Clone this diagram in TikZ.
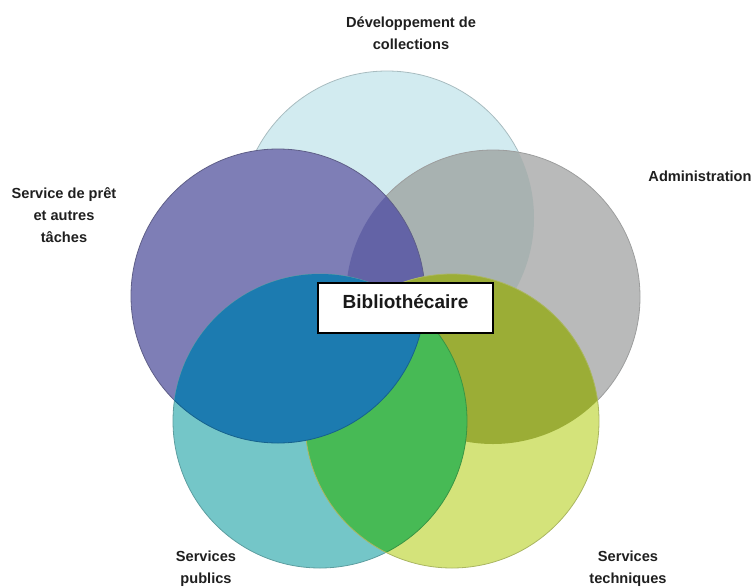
\documentclass[tikz,border=0pt]{standalone}
\usepackage{fontspec}
\setmainfont{Liberation Sans}

\definecolor{collections}{HTML}{D2EBF0}
\definecolor{admin}{HTML}{B9BABA}
\definecolor{admin on coll}{HTML}{A8B2B1}
\definecolor{pret}{HTML}{7E7EB6}
\definecolor{pret on admin}{HTML}{6363A6}
\definecolor{publics}{HTML}{74C6C8}
\definecolor{publics on pret}{HTML}{1C7BB0}
\definecolor{techniques}{HTML}{D4E37A}
\definecolor{tech on admin}{HTML}{9BAD36}
\definecolor{tech on publics}{HTML}{47BA55}

\tikzset{
  area label/.style={
    font=\fontsize{14.6}{22}\selectfont\bfseries,
    align=center, inner sep=0pt, anchor=north, text=black!88
  },
  rim/.style={line width=0.8pt}
}

\begin{document}
\begin{tikzpicture}[x=1pt,y=-1pt]
  \useasboundingbox (0,0) rectangle (753,587);

  \def\rad{147pt}
  \coordinate (coll c) at (387,218);
  \coordinate (admin c) at (493,297);
  \coordinate (pret c) at (278,296);
  \coordinate (publics c) at (320,421);
  \coordinate (tech c) at (452,421);

  % upper disc
  \fill [collections] (coll c) circle [radius=\rad];
  \draw [rim, collections!80!black] (coll c) circle [radius=\rad];

  % right disc
  \fill [admin] (admin c) circle [radius=\rad];
  \begin{scope}
    \clip (admin c) circle [radius=\rad];
    \fill [admin on coll] (coll c) circle [radius=\rad];
  \end{scope}
  \draw [rim, admin!85!black] (admin c) circle [radius=\rad];

  % left disc
  \fill [pret] (pret c) circle [radius=\rad];
  \begin{scope}
    \clip (pret c) circle [radius=\rad];
    \fill [pret on admin] (admin c) circle [radius=\rad];
  \end{scope}
  \draw [rim, pret!75!black] (pret c) circle [radius=\rad];

  % lower left disc
  \fill [publics] (publics c) circle [radius=\rad];
  \draw [rim, publics!80!black] (publics c) circle [radius=\rad];

  % lower right disc
  \fill [techniques] (tech c) circle [radius=\rad];
  \begin{scope}
    \clip (tech c) circle [radius=\rad];
    \fill [tech on admin] (admin c) circle [radius=\rad];
    \fill [tech on publics] (publics c) circle [radius=\rad];
    \draw [rim, tech on publics!80!black] (publics c) circle [radius=\rad];
  \end{scope}
  \draw [rim, techniques!80!black] (tech c) circle [radius=\rad];

  % blue lens stays on top
  \begin{scope}
    \clip (publics c) circle [radius=\rad];
    \fill [publics on pret] (pret c) circle [radius=\rad];
    \draw [rim, publics on pret!80!black] (pret c) circle [radius=\rad];
  \end{scope}

  \node [draw, fill=white, line width=1.3pt,
    minimum width=175pt, inner xsep=0pt, inner ysep=5pt,
    text height=20pt, text depth=20pt,
    font=\fontsize{19}{22}\selectfont\bfseries, text=black!90]
    (role) at (405.5,308) {Bibliothécaire};

  \node [area label] (coll label) at (411,17) {Développement de\\collections};
  \node [area label] (pret label) at (64,187) {Service de prêt\\et autres\\tâches};
  \node [area label] (admin label) at (700,171) {Administration};
  \node [area label] (publics label) at (206,551) {Services\\publics};
  \node [area label] (tech label) at (628,551) {Services\\techniques};
\end{tikzpicture}
\end{document}
